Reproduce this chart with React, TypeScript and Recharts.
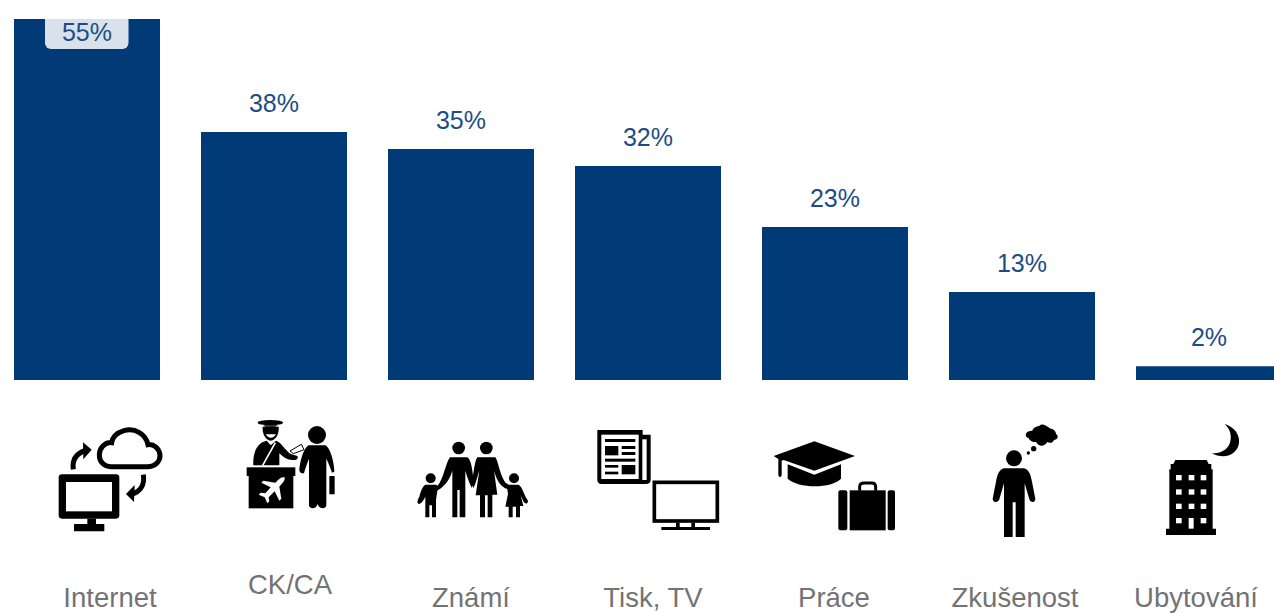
import { BarChart, Bar, XAxis, YAxis, LabelList } from "recharts"

const categories = ["Internet", "CK/CA", "Známí", "Tisk, TV", "Práce", "Zkušenost", "Ubytování"]
// bar heights as measured; the printed percentages are rounded separately in the source
const shares = [55, 37.8, 35.2, 32.6, 23.3, 13.4, 2.1]
const shareLabels = ["55%", "38%", "35%", "32%", "23%", "13%", "2%"]

const chartData = categories.map((name, i) => ({ name, share: shares[i] }))

const BLUE = "#003b77"
const LABEL_BLUE = "#1d4d84"
const GREY = "#737373"

function InternetIcon() {
  return (
    <g>
      <rect x={176} y={223} width={182} height={133} rx={10} fill="#000" />
      <rect x={198} y={246} width={138} height={88} fill="#fff" />
      <rect x={262} y={356} width={26} height={18} fill="#000" />
      <rect x={222} y={372} width={91} height={22} rx={2} fill="#000" />
      <path d="M332 200H442C468 200 481 182 480 165C478 146 462 132 444 134C438 104 405 82 372 92C352 98 338 110 335 128C314 126 298 145 298 165C298 185 312 200 332 200Z" fill="#fff" stroke="#000" strokeWidth={15} />
      <path d="M220 208C216 182 228 162 254 152" fill="none" stroke="#000" strokeWidth={15} />
      <path d="M249 127L275 149L250 178Z" fill="#000" />
      <path d="M430 224C435 255 420 275 396 282" fill="none" stroke="#000" strokeWidth={15} />
      <path d="M404 255L378 282L402 306Z" fill="#000" />
    </g>
  )
}

function AgencyIcon() {
  return (
    <g>
      <ellipse cx={811} cy={68} rx={38} ry={8} fill="#000" />
      <path d="M790 76H834L826 80H796Z" fill="#000" />
      <path d="M788 80H836C838 100 828 120 812 122C796 120 786 100 788 80Z" fill="#000" />
      <path d="M797 103C806 117 820 116 828 103Z" fill="#fff" />
      <path d="M760 196C758 160 770 128 800 122L812 136L828 122C845 128 855 150 872 162L892 168C896 176 890 182 880 180C865 182 850 172 838 160L838 196Z" fill="#000" />
      <path d="M826 128L788 196" stroke="#fff" strokeWidth={5} />
      <path d="M870 153L904 133L912 149L880 161Z" fill="#fff" stroke="#000" strokeWidth={3} />
      <rect x={740} y={202} width={146} height={26} fill="#000" />
      <rect x={746} y={228} width={134} height={97} fill="#000" />
      <path d="M854 232C846 230 836 236 826 248L790 242L784 248L812 262L796 280L782 278L776 284L794 292L802 310L808 304L806 292L824 274L838 302L844 296L838 260C848 250 856 240 854 232Z" fill="#fff" />
      <circle cx={951} cy={105} r={27} fill="#000" />
      <path d="M925 136H977C992 146 1003 190 1003 215L996 218C992 205 986 190 979 176V316C979 328 956 328 953 312C950 328 927 328 927 316V176C922 190 915 205 912 220C903 222 897 216 898 208C900 185 910 146 925 136Z" fill="#000" />
      <rect x={988} y={228} width={16} height={55} rx={2} fill="#000" />
    </g>
  )
}

function FamilyIcon() {
  return (
    <g>
      <circle cx={176} cy={144} r={19} fill="#000" />
      <circle cx={259} cy={144} r={19} fill="#000" />
      <circle cx={92} cy={235} r={15} fill="#000" />
      <circle cx={342} cy={235} r={15} fill="#000" />
      <path d="M150 172H202C212 178 216 200 220 235L216 264C208 250 200 225 196 212V352H179V270H172V352H157V212C150 235 140 252 118 268L108 262C130 245 136 190 150 172Z" fill="#000" />
      <path d="M232 172H286C296 185 300 235 324 256L318 266C295 254 288 232 282 212L292 284H277V352H263V286H255V352H240V286H227L238 212C232 228 228 250 220 264L214 250C222 225 222 185 232 172Z" fill="#000" />
      <path d="M76 254H108L122 264L112 272L108 300V352H96V316H88V352H76V290C72 298 66 310 56 312C50 308 52 300 58 290C62 275 68 258 76 254Z" fill="#000" />
      <path d="M326 254H356C368 262 372 285 384 302C384 312 376 314 370 304L362 286L370 318H360V352H348V320H338V352H326V320H316L324 282L322 268L310 258L320 250Z" fill="#000" />
    </g>
  )
}

function MediaIcon() {
  return (
    <g>
      <path d="M592 90H728V104H752V240C752 248 746 252 738 252H604C596 252 592 246 592 240Z" fill="#000" />
      <rect x={604} y={104} width={112} height={133} fill="#fff" />
      <rect x={727} y={118} width={13} height={122} fill="#fff" />
      <rect x={615} y={117} width={91} height={9} fill="#000" />
      <rect x={615} y={138} width={40} height={28} fill="#000" />
      <rect x={665} y={138} width={41} height={9} fill="#000" />
      <rect x={665} y={156} width={41} height={9} fill="#000" />
      <rect x={615} y={176} width={91} height={9} fill="#000" />
      <rect x={615} y={195} width={40} height={8} fill="#000" />
      <rect x={665} y={195} width={41} height={28} fill="#000" />
      <rect x={615} y={215} width={40} height={8} fill="#000" />
      <rect x={763} y={247} width={189} height={116} fill="#fff" stroke="#000" strokeWidth={11} />
      <rect x={828} y={368} width={11} height={16} fill="#000" />
      <rect x={874} y={368} width={11} height={16} fill="#000" />
      <rect x={784} y={381} width={146} height={9} fill="#000" />
    </g>
  )
}

function WorkIcon() {
  return (
    <g>
      <path d="M148 34L270 78L148 122L56 90L50 92V134C50 143 40 143 40 134V87L26 78Z" fill="#000" />
      <path d="M68 103L148 134L228 103V146C200 176 100 176 68 146Z" fill="#000" />
      <rect x={220} y={181} width={27} height={120} rx={6} fill="#000" />
      <rect x={254} y={181} width={108} height={120} fill="#000" />
      <rect x={368} y={181} width={22} height={120} rx={6} fill="#000" />
      <path d="M284 182V170C284 162 290 159 298 159H320C328 159 332 162 332 170V182" fill="none" stroke="#000" strokeWidth={9} />
    </g>
  )
}

function ThinkerIcon() {
  return (
    <g>
      <circle cx={480} cy={175} r={24} fill="#000" />
      <path d="M450 205H510C526 210 530 225 534 245L544 296C544 308 530 310 526 298L512 250V411H485V307H476V411H450V250L436 298C432 310 416 308 416 296L426 245C430 225 434 210 450 205Z" fill="#000" />
      <circle cx={523} cy={159} r={5} fill="#000" />
      <circle cx={539} cy={146} r={8} fill="#000" />
      <path d="M535 92C538 78 556 80 560 74C572 70 582 82 590 86C602 88 606 96 606 102C616 108 610 120 600 120C596 130 586 130 580 126C570 142 554 140 546 126C534 128 526 120 524 114C510 110 512 92 535 92Z" fill="#000" />
    </g>
  )
}

function HotelIcon() {
  const windowRows = [225, 268, 311]
  const windowCols = [966, 1004, 1040]
  return (
    <g>
      <path d="M1112 72C1140 80 1158 104 1155 128C1152 158 1118 182 1072 160C1108 162 1128 142 1130 118C1132 100 1126 86 1112 72Z" fill="#000" />
      <path d="M964 180H1058L1064 192H1072V208H1076V386H1086V405H936V386H946V208H950V192H958Z" fill="#000" />
      {windowRows.map((wy) =>
        windowCols.map((wx) => <rect key={`${wx}-${wy}`} x={wx} y={wy} width={17} height={16} fill="#fff" />)
      )}
      <rect x={966} y={354} width={17} height={16} fill="#fff" />
      <rect x={1004} y={354} width={15} height={32} fill="#fff" />
      <rect x={1040} y={354} width={17} height={16} fill="#fff" />
    </g>
  )
}

// origin of each traced icon relative to its bar centre, and how far its caption sits from the bar
const tickLayout = [
  { Icon: InternetIcon, dx: -86.5, y: 400, labelDx: 23.5, baseline: 607 },
  { Icon: AgencyIcon, dx: -273.5, y: 400, labelDx: 16.5, baseline: 594 },
  { Icon: FamilyIcon, dx: -60.5, y: 400, labelDx: 10.5, baseline: 607 },
  { Icon: MediaIcon, dx: -247.5, y: 400, labelDx: 5.5, baseline: 607 },
  { Icon: WorkIcon, dx: -69.5, y: 430, labelDx: -0.5, baseline: 607 },
  { Icon: ThinkerIcon, dx: -167.5, y: 400, labelDx: -6.5, baseline: 607 },
  { Icon: HotelIcon, dx: -354.5, y: 400, labelDx: -12.5, baseline: 607 },
]

function CategoryTick({ x, index, payload }: any) {
  const { Icon, dx, y, labelDx, baseline } = tickLayout[index]
  return (
    <g>
      <g transform={`translate(${x + dx} ${y}) scale(${1 / 3})`}>
        <Icon />
      </g>
      <text x={x + labelDx} y={baseline} textAnchor="middle" fontSize={27.5} fill={GREY} fontFamily="'Liberation Sans', Arial, sans-serif">
        {payload.value}
      </text>
    </g>
  )
}

function ShareLabel({ x, y, width, index }: any) {
  const cx = x + width / 2
  const text = shareLabels[index]
  if (index === 0) {
    // the tallest bar keeps its label inside, on a pale tab
    return (
      <g>
        <path d={`M${cx - 42} ${y}H${cx + 41.5}V${y + 24}a6 6 0 0 1 -6 6H${cx - 36}a6 6 0 0 1 -6 -6Z`} fill="#d9e2ec" />
        <text x={cx} y={y + 22} textAnchor="middle" fontSize={25} fill={LABEL_BLUE} fontFamily="'Liberation Sans', Arial, sans-serif">
          {text}
        </text>
      </g>
    )
  }
  return (
    <text x={cx} y={y - 20} textAnchor="middle" fontSize={25} fill={LABEL_BLUE} fontFamily="'Liberation Sans', Arial, sans-serif">
      {text}
    </text>
  )
}

export default function App() {
  return (
    <div style={{ position: "absolute", left: 0, top: 0, width: 1274, height: 613, overflow: "hidden", background: "#fff" }}>
      <div style={{ position: "absolute", left: -7, top: 0 }}>
        <BarChart width={1309} height={613} data={chartData} margin={{ top: 19, right: 0, bottom: 0, left: 0 }} barSize={146}>
          <XAxis
            dataKey="name"
            interval={0}
            height={233}
            axisLine={false}
            tickLine={false}
            tick={<CategoryTick />}
          />
          <YAxis hide domain={[0, 55]} />
          <Bar dataKey="share" fill={BLUE} isAnimationActive={false}>
            <LabelList dataKey="share" content={<ShareLabel />} />
          </Bar>
        </BarChart>
      </div>
    </div>
  )
}
